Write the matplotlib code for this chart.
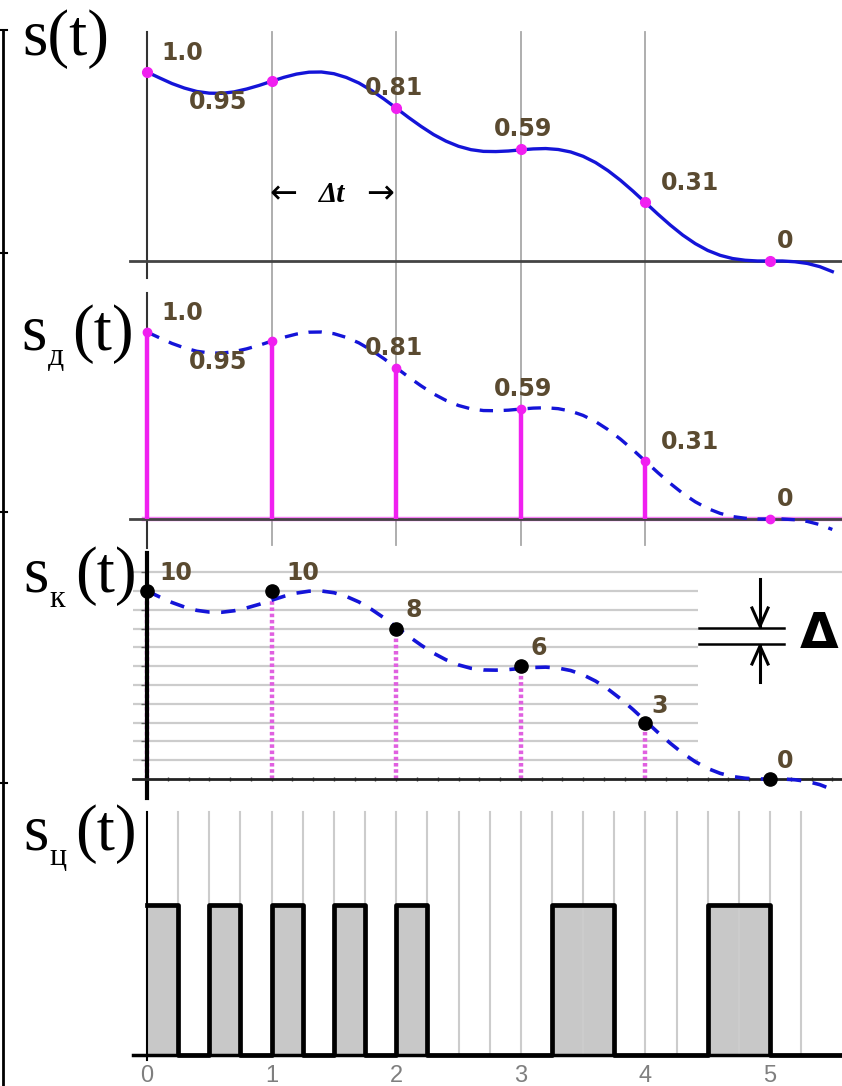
import numpy as np
import matplotlib
matplotlib.use("Agg")
import matplotlib.pyplot as plt
from matplotlib.lines import Line2D

# ---------------- data ----------------
t_samples = [0, 1, 2, 3, 4, 5]
s_samples = [1.0, 0.95, 0.81, 0.59, 0.31, 0.0]
s_labels = ["1.0", "0.95", "0.81", "0.59", "0.31", "0"]
q_codes = [10, 10, 8, 6, 3, 0]
q_labels = ["10", "10", "8", "6", "3", "0"]
quant_levels = list(range(1, 12))
n_bits = 4
x_ticks = [0, 1, 2, 3, 4, 5]
x_ticklabels = ["0", "1", "2", "3", "4", "5"]

curve_t = [0.0, 0.1, 0.2, 0.3, 0.4, 0.5, 0.6, 0.7, 0.8, 0.9,
           1.0, 1.1, 1.2, 1.3, 1.4, 1.5, 1.6, 1.7, 1.8, 1.9,
           2.0, 2.1, 2.2, 2.3, 2.4, 2.5, 2.6, 2.7, 2.8, 2.9,
           3.0, 3.1, 3.2, 3.3, 3.4, 3.5, 3.6, 3.7, 3.8, 3.9,
           4.0, 4.1, 4.2, 4.3, 4.4, 4.5, 4.6, 4.7, 4.8, 4.9,
           5.0, 5.1, 5.2, 5.3, 5.4, 5.5]
curve_s = [1.000, 0.969, 0.939, 0.915, 0.897, 0.888, 0.887, 0.895, 0.910, 0.929,
           0.951, 0.972, 0.989, 0.999, 1.000, 0.991, 0.971, 0.942, 0.903, 0.858,
           0.809, 0.759, 0.712, 0.669, 0.634, 0.607, 0.589, 0.580, 0.579, 0.582,
           0.588, 0.593, 0.595, 0.590, 0.577, 0.554, 0.521, 0.478, 0.427, 0.370,
           0.309, 0.248, 0.190, 0.137, 0.092, 0.056, 0.030, 0.013, 0.004, 0.000,
           0.000, 0.000, -0.004, -0.013, -0.030, -0.056]

# ---------------- styles ----------------
W, H = 842, 1086
BLUE = "#1414d8"
MAG = "#f020f0"
LAB = "#5a4a30"
GRID = "#a8a8a8"
LGRID = "#cccccc"

fig = plt.figure(figsize=(W / 100, H / 100), dpi=100)


def px2t(px):
    return (px - 147) / 124.6


def make_ax(top, bottom, y0, sc):
    ax = fig.add_axes([130 / W, 1 - bottom / H, (842 - 130) / W, (bottom - top) / H])
    ax.set_xlim(px2t(130), px2t(842))
    ax.set_ylim((y0 - bottom) / sc, (y0 - top) / sc)
    ax.patch.set_visible(False)
    for s in ["top", "right"]:
        ax.spines[s].set_visible(False)
    ax.spines["left"].set_position(("data", 0))
    ax.spines["bottom"].set_position(("data", 0))
    ax.set_xticks([])
    ax.set_yticks([])

    def yv(py):
        return (y0 - py) / sc

    def yfrac(py):
        return (bottom - py) / (bottom - top)
    return ax, yv, yfrac


label_font = dict(family="DejaVu Sans", weight="bold", size=17, color=LAB)

# ---------------- panel 1: s(t) ----------------
ax1, yv1, yf1 = make_ax(28, 280, 261, 189)
ax1.spines["left"].set_bounds(yv1(278), yv1(32))
ax1.spines["left"].set_color("#333333")
ax1.spines["left"].set_linewidth(1.5)
ax1.spines["bottom"].set_color("#444444")
ax1.spines["bottom"].set_linewidth(2)
for t in t_samples[1:5]:
    ax1.axvline(t, ymin=0, ymax=yf1(32), color=GRID, lw=1.3, zorder=0)
ax1.plot(curve_t, curve_s, color=BLUE, lw=2.4, zorder=3)
ax1.plot(t_samples, s_samples, "o", color=MAG, ms=7, zorder=4)
off12 = [(35, 12), (-54, -28), (-2, 13), (2, 13), (45, 12), (15, 13)]
for t, s, lab, off in zip(t_samples, s_samples, s_labels, off12):
    ax1.annotate(lab, (t, s), xytext=off, textcoords="offset pixels",
                 ha="center", va="baseline", zorder=6, **label_font)

# delta t annotation
serif = ["Liberation Serif", "DejaVu Serif"]
fig.text(283 / W, 1 - 194 / H, "\u2190", family="DejaVu Sans", size=24,
         ha="center", va="center")
fig.text(332 / W, 1 - 194 / H, "\u0394t", family=serif, size=21, style="italic",
         weight="bold", ha="center", va="center")
fig.text(380 / W, 1 - 194 / H, "\u2192", family="DejaVu Sans", size=24,
         ha="center", va="center")

# ---------------- panel 2: sampled ----------------
ax2, yv2, yf2 = make_ax(280, 548, 519, 187)
ax2.spines["left"].set_bounds(yv2(548), yv2(293))
ax2.spines["left"].set_color("#333333")
ax2.spines["left"].set_linewidth(1.5)
ax2.spines["bottom"].set_color("#444444")
ax2.spines["bottom"].set_linewidth(2)
for t in t_samples[1:5]:
    ax2.axvline(t, ymin=yf2(545), ymax=1, color=GRID, lw=1.3, zorder=0)
ax2.axhline(0, xmin=0.02, color=MAG, lw=3.2, alpha=0.55, zorder=1)
ax2.plot(curve_t, curve_s, color=BLUE, lw=2.4, dashes=(4, 3.2), zorder=3)
ax2.vlines(t_samples[:5], 0, s_samples[:5], color=MAG, lw=3.2, zorder=4)
ax2.plot(t_samples, s_samples, "o", color=MAG, ms=6, zorder=5)
for t, s, lab, off in zip(t_samples, s_samples, s_labels, off12):
    ax2.annotate(lab, (t, s), xytext=off, textcoords="offset pixels",
                 ha="center", va="baseline", zorder=6, **label_font)

# ---------------- panel 3: quantized ----------------
ax3, yv3, yf3 = make_ax(548, 800, 779, 18.8)
ax3.spines["left"].set_bounds(yv3(798), yv3(553))
ax3.spines["left"].set_color("black")
ax3.spines["left"].set_linewidth(3)
ax3.spines["bottom"].set_color("#222222")
ax3.spines["bottom"].set_linewidth(2)
ax3.spines["bottom"].set_bounds(px2t(133), px2t(842))
ax3.hlines(quant_levels[:-1], px2t(133), px2t(698), color=LGRID, lw=1.6, zorder=0)
ax3.hlines(quant_levels[-1:], px2t(133), px2t(842), color=LGRID, lw=1.6, zorder=0)
ax3.set_xticks(np.arange(0, 5.6, 1 / 6))
ax3.set_yticks(quant_levels)
ax3.tick_params(axis="x", length=3, width=1, direction="inout", color="#444444",
                labelbottom=False)
ax3.tick_params(axis="y", length=4, width=1, direction="out", color="#666666",
                labelleft=False)
curve_q = [10 * v for v in curve_s]
ax3.plot(curve_t, curve_q, color=BLUE, lw=2.6, dashes=(4, 3.2), zorder=3)
ax3.vlines(t_samples[:5], 0, q_codes[:5], color="#e060e0", lw=3.2,
           linestyles=[(0, (0.8, 0.6))], zorder=2)
ax3.plot(t_samples, q_codes, "o", color="black", ms=9.5, zorder=5)
off3 = [(29, 11), (31, 11), (18, 12), (18, 11), (14, 10), (15, 11)]
for t, q, lab, off in zip(t_samples, q_codes, q_labels, off3):
    ax3.annotate(lab, (t, q), xytext=off, textcoords="offset pixels",
                 ha="center", va="baseline", zorder=6, **label_font)

# delta marker (figure pixels)
for yy in (628, 644):
    fig.add_artist(Line2D([699 / W, 784 / W], [1 - yy / H, 1 - yy / H],
                          transform=fig.transFigure, color="black", lw=1.8))
fig.add_artist(Line2D([760 / W, 760 / W], [1 - 579 / H, 1 - 626 / H],
                      transform=fig.transFigure, color="black", lw=2.2))
fig.add_artist(Line2D([760 / W, 760 / W], [1 - 646 / H, 1 - 682 / H],
                      transform=fig.transFigure, color="black", lw=2.2))
fig.add_artist(Line2D([752 / W, 760 / W, 768 / W], [1 - 608 / H, 1 - 626 / H, 1 - 608 / H],
                      transform=fig.transFigure, color="black", lw=2.2))
fig.add_artist(Line2D([752 / W, 760 / W, 768 / W], [1 - 664 / H, 1 - 646 / H, 1 - 664 / H],
                      transform=fig.transFigure, color="black", lw=2.2))
fig.text(800 / W, 1 - 634 / H, "\u0394", family="DejaVu Sans", weight="bold",
         size=36, ha="left", va="center")

# ---------------- panel 4: digital code ----------------
ax4, yv4, yf4 = make_ax(800, 1062, 1055, 150)
ax4.spines["left"].set_bounds(yv4(1060), yv4(812))
ax4.spines["left"].set_color("black")
ax4.spines["left"].set_linewidth(1.5)
ax4.spines["bottom"].set_color("black")
ax4.spines["bottom"].set_linewidth(2.5)
ax4.spines["bottom"].set_bounds(px2t(133), px2t(842))
bits = []
for c in q_codes:
    bits += [int(b) for b in format(c, "0%db" % n_bits)]
bit_w = 1 / n_bits
edges = [i * bit_w for i in range(len(bits) + 1)]
levels = bits + [bits[-1]]
ax4.fill_between(edges, levels, step="post", color="#c8c8c8", lw=0, zorder=1)
for k in range(1, int(5.25 / bit_w) + 1):
    ax4.axvline(k * bit_w, ymin=yf4(1055), ymax=yf4(812), color=LGRID, lw=1.5, zorder=2)
ax4.step(edges, levels, where="post", color="black", lw=3.4, zorder=3)
ax4.set_xticks(x_ticks)
ax4.set_xticklabels(x_ticklabels)
ax4.tick_params(axis="x", length=0, pad=7, labelsize=17, labelcolor="#7f7f7f")
for lab in ax4.get_xticklabels():
    lab.set_family("Liberation Sans")

# ---------------- left labels ----------------
def ftxt(x, y, s, size, **kw):
    fig.text(x / W, 1 - y / H, s, family=serif, size=size, ha="left", va="baseline", **kw)


ftxt(22, 55, "s(t)", 47)
for base, sub, (sx, bx, px) in [(350, "\u0434", (21, 48, 72)),
                                (592, "\u043a", (23, 49, 75)),
                                (850, "\u0446", (23, 49, 75))]:
    ftxt(sx, base, "s", 47)
    ftxt(bx, base + 15, sub, 23)
    ftxt(px, base, "(t)", 47)

# left frame line with small ticks
fig.add_artist(Line2D([3 / W, 3 / W], [1 - 30 / H, 0], transform=fig.transFigure,
                      color="black", lw=2))
for yy in (30, 253, 512, 783):
    fig.add_artist(Line2D([1 / W, 7 / W], [1 - yy / H, 1 - yy / H],
                          transform=fig.transFigure, color="black", lw=1.5))

fig.savefig("out.png", dpi=100)
